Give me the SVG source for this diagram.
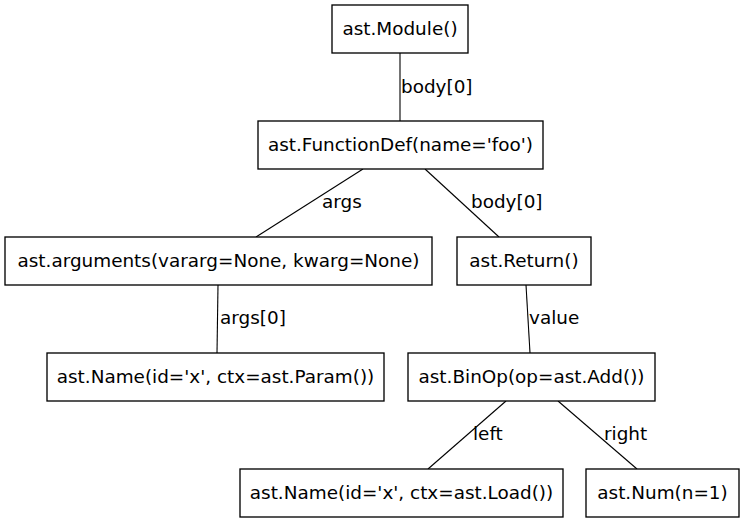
<svg xmlns="http://www.w3.org/2000/svg" width="745" height="523" viewBox="0 0 745 523">
<style>
.node rect{fill:#ffffff;stroke:#000000;stroke-width:1.33}
.node text{font-family:"DejaVu Sans",sans-serif;font-size:18.4px;text-anchor:middle;fill:#000000}
.edges line{stroke:#000000;stroke-width:1.1}
.edges text{font-family:"DejaVu Sans",sans-serif;font-size:18.4px;text-anchor:start;fill:#000000}
</style>
<rect x="0" y="0" width="745" height="523" fill="#ffffff"/>
<g id="edges" class="edges">
<line x1="400" y1="53" x2="400" y2="121"/>
<text x="401" y="93">body[0]</text>
<line x1="363" y1="169" x2="256" y2="237"/>
<text x="322" y="208">args</text>
<line x1="425" y1="169" x2="499" y2="237"/>
<text x="471" y="208">body[0]</text>
<line x1="218" y1="285" x2="217" y2="353"/>
<text x="220" y="324">args[0]</text>
<line x1="526" y1="285" x2="530" y2="353"/>
<text x="529" y="324">value</text>
<line x1="506" y1="401" x2="428" y2="469"/>
<text x="473" y="440">left</text>
<line x1="558" y1="401" x2="637" y2="469"/>
<text x="604" y="440">right</text>
</g>
<g id="module" class="node"><rect x="332" y="5" width="136" height="48"/><text x="400" y="35">ast.Module()</text></g>
<g id="functiondef" class="node"><rect x="258" y="121" width="285" height="48"/><text x="400.5" y="151">ast.FunctionDef(name='foo')</text></g>
<g id="arguments" class="node"><rect x="5" y="237" width="427" height="48"/><text x="218.5" y="267">ast.arguments(vararg=None, kwarg=None)</text></g>
<g id="return" class="node"><rect x="457" y="237" width="134" height="48"/><text x="524" y="267">ast.Return()</text></g>
<g id="name_param" class="node"><rect x="47" y="353" width="337" height="48"/><text x="215.5" y="383">ast.Name(id='x', ctx=ast.Param())</text></g>
<g id="binop" class="node"><rect x="408" y="353" width="247" height="48"/><text x="531.5" y="383">ast.BinOp(op=ast.Add())</text></g>
<g id="name_load" class="node"><rect x="240" y="469" width="323" height="48"/><text x="401.5" y="499">ast.Name(id='x', ctx=ast.Load())</text></g>
<g id="num" class="node"><rect x="586" y="469" width="153" height="48"/><text x="662.5" y="499">ast.Num(n=1)</text></g>
</svg>
